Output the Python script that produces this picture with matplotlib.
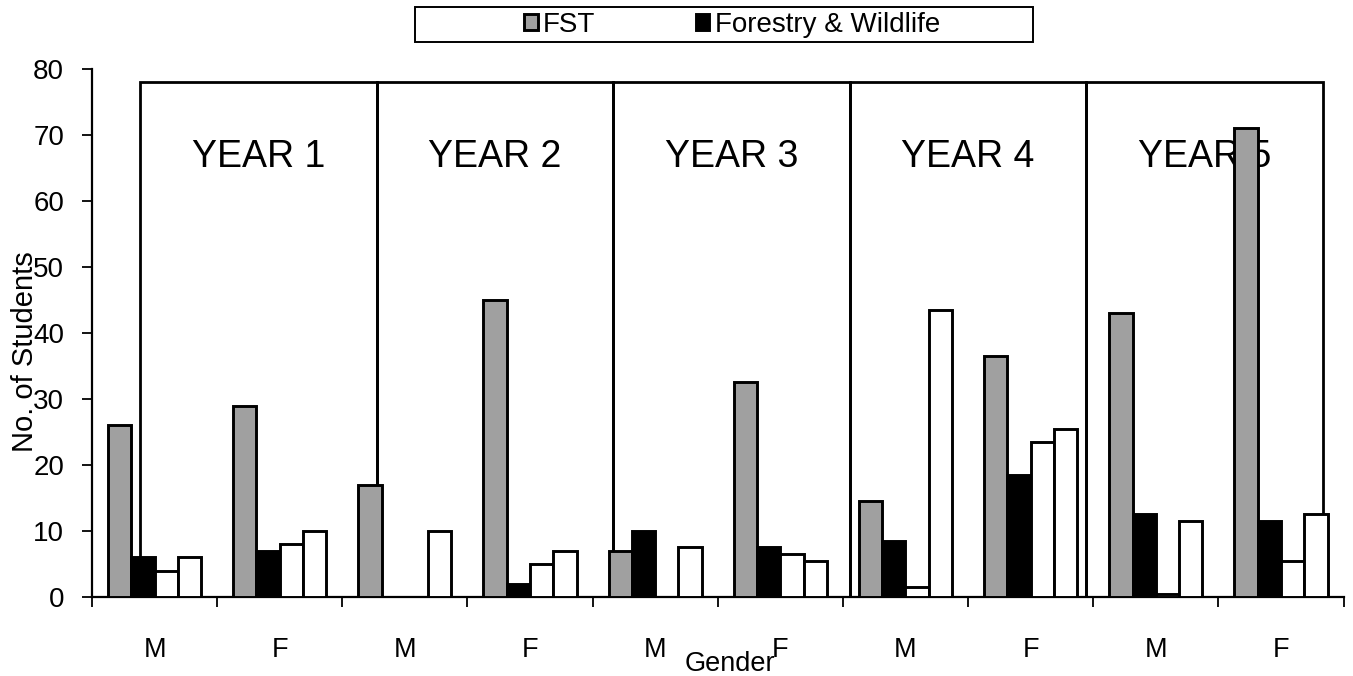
import matplotlib
matplotlib.use("Agg")
import matplotlib.pyplot as plt
import matplotlib.patches as patches
import numpy as np

plt.rcParams['font.family'] = ['Liberation Sans', 'DejaVu Sans']

# data
genders = ['M', 'F', 'M', 'F', 'M', 'F', 'M', 'F', 'M', 'F']
years = ['YEAR 1', 'YEAR 2', 'YEAR 3', 'YEAR 4', 'YEAR 5']
fst = [26, 29, 17, 45, 7, 32.5, 14.5, 36.5, 43, 71]
forestry = [6, 7, 0, 2, 10, 7.5, 8.5, 18.5, 12.5, 11.5]
white_a = [4, 8, 0, 5, 0, 6.5, 1.5, 23.5, 0.5, 5.5]
white_b = [6, 10, 10, 7, 7.5, 5.5, 43.5, 25.5, 11.5, 12.5]

fig = plt.figure(figsize=(13.53, 6.76), dpi=100)
ax = fig.add_axes([0.068, 0.117, 0.925, 0.781])

x = np.arange(len(genders))
w = 0.186
lw = 2.1
b1 = ax.bar(x - 1.5*w, fst, w, color='#a0a0a0', edgecolor='black', lw=lw, zorder=3)
b2 = ax.bar(x - 0.5*w, forestry, w, color='black', edgecolor='black', lw=lw, zorder=3)
ax.bar(x + 0.5*w, white_a, w, color='white', edgecolor='black', lw=lw, zorder=3)
ax.bar(x + 1.5*w, white_b, w, color='white', edgecolor='black', lw=lw, zorder=3)

# year boxes drawn over the plot
box_left = -0.116
box_w = 1.89
box_top = 78
for i, yr in enumerate(years):
    x0 = box_left + i * box_w
    ax.add_patch(patches.Rectangle((x0, 0), box_w, box_top, fill=False,
                                   edgecolor='black', lw=2.0, zorder=1))
    ax.text(x0 + box_w / 2, 66.7, yr, ha='center', va='center',
            fontsize=27, zorder=2)

ax.set_xlim(-0.5, 9.5)
ax.set_ylim(0, 80)
ax.set_yticks(range(0, 81, 10))
ax.set_xticks(x)
ax.set_xticklabels(genders)
ax.set_xticks(np.arange(-0.5, 10, 1), minor=True)
ax.tick_params(axis='x', which='major', length=0, pad=29, labelsize=19.5)
ax.tick_params(axis='x', which='minor', length=7, width=1.3, direction='out')
ax.tick_params(axis='y', length=7, width=1.3, pad=13, labelsize=20)

for s in ['top', 'right']:
    ax.spines[s].set_visible(False)
ax.spines['left'].set_linewidth(1.6)
ax.spines['bottom'].set_linewidth(1.6)

fig.text(25/1353, 1 - 352/676, 'No. of Students', rotation=90,
         ha='center', va='center', fontsize=21)
fig.text(730/1353, 1 - 664/676, 'Gender', ha='center', va='center', fontsize=19.5)

# legend (only the two named series), with a wide Excel-like frame
fig.legend([b1, b2], ['FST', 'Forestry & Wildlife'], loc='center',
           bbox_to_anchor=(732/1353, 1 - 25/676), ncol=2, frameon=False,
           fontsize=20, handlelength=0.5, handleheight=0.5,
           handletextpad=0.2, columnspacing=3.6, borderpad=0.1)
fig.patches.append(patches.Rectangle((415/1353, 1 - 42/676), 618/1353, 35/676,
                                     transform=fig.transFigure, fill=False,
                                     edgecolor='black', lw=1.4))

fig.savefig('out.png', dpi=100)
